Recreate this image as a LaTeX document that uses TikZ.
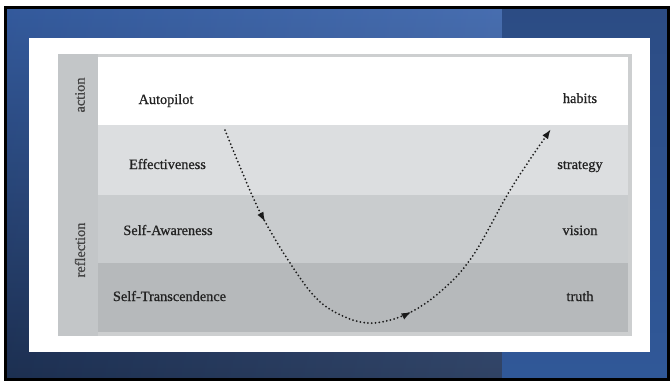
\documentclass[tikz,border=0pt]{standalone}
\usepackage{fontspec}
\setmainfont{Liberation Serif}
\newfontfamily\lblfont{Liberation Serif}[FakeBold=0.7]
\usetikzlibrary{arrows.meta,decorations.markings}
\definecolor{bgtop}{HTML}{3862AA}
\definecolor{bgbot}{HTML}{1F3357}
\definecolor{rtop}{HTML}{2C4C84}
\definecolor{rbot}{HTML}{305898}
\definecolor{pborder}{HTML}{CDCFD0}
\definecolor{leftcol}{HTML}{C3C6C8}
\definecolor{rowtwo}{HTML}{DCDEE0}
\definecolor{rowthree}{HTML}{C9CCCE}
\definecolor{rowfour}{HTML}{B6B9BB}
\definecolor{txt}{HTML}{222222}
\definecolor{dots}{HTML}{1A1A1A}
\begin{document}
\begin{tikzpicture}[x=1pt,y=-1pt,
  lbl/.style={font=\lblfont\fontsize{14.3}{16}\selectfont, text=txt, inner sep=0pt, anchor=base},
  side/.style={font=\lblfont\fontsize{14.3}{16}\selectfont, text=txt!85!white, inner sep=0pt, rotate=90},
  >={Latex[length=10pt,width=7pt]},
  dotpath/.style={dots, line width=2pt, line cap=round, dash pattern=on 0pt off 3.8pt}]
\useasboundingbox (0,0) rectangle (670,381);
\fill[white] (0,0) rectangle (670,381);
% background
\shade[top color=bgtop, bottom color=bgbot] (5,7) rectangle (502,379);
\shade[left color=black, right color=white, opacity=0.08] (5,7) rectangle (502,379);
\shade[top color=rtop, bottom color=rbot] (502,7) rectangle (668,379);
\draw[black, line width=3pt] (5.5,7.5) rectangle (668.5,379.5);
% white card
\fill[white] (29,38) rectangle (650,352);
% panel
\fill[pborder] (58,54) rectangle (632,336);
\fill[leftcol] (58,54) rectangle (98,336);
\fill[white] (98,57) rectangle (628,125);
\fill[rowtwo] (98,125) rectangle (628,195);
\fill[rowthree] (98,195) rectangle (628,263);
\fill[rowfour] (98,263) rectangle (628,332);
% side labels
\node[side] (action) at (80,95) {action};
\node[side] (reflection) at (80,250) {reflection};
% row labels
\node[lbl] (autopilot) at (166,104) {Autopilot};
\node[lbl] (effect) at (167.5,169) {Effectiveness};
\node[lbl] (selfaw) at (168,235) {Self-Awareness};
\node[lbl] (selftr) at (169.5,301) {Self-Transcendence};
\node[lbl] (habits) at (580,103) {habits};
\node[lbl] (strategy) at (580,169) {strategy};
\node[lbl] (vision) at (580,235) {vision};
\node[lbl] (truth) at (580,301) {truth};
% curve
\coordinate (p0) at (225,130);
\coordinate (p1) at (243,174);
\coordinate (p2) at (262,216);
\coordinate (p3) at (290,263);
\coordinate (p4) at (317,299);
\coordinate (p5) at (345,317);
\coordinate (p6) at (373,323);
\coordinate (p7) at (407,314);
\coordinate (p8) at (440,292);
\coordinate (p9) at (472,257);
\coordinate (p10) at (512,187);
\coordinate (p11) at (551,129);
\draw[dotpath, ->, postaction={decorate}, decoration={markings,
    mark=at position 0.19 with {\arrow{>}},
    mark=at position 0.56 with {\arrow{>}}}]
  plot[smooth, tension=0.6] coordinates {(p0) (p1) (p2) (p3) (p4) (p5) (p6) (p7) (p8) (p9) (p10) (p11)};
\end{tikzpicture}
\end{document}
